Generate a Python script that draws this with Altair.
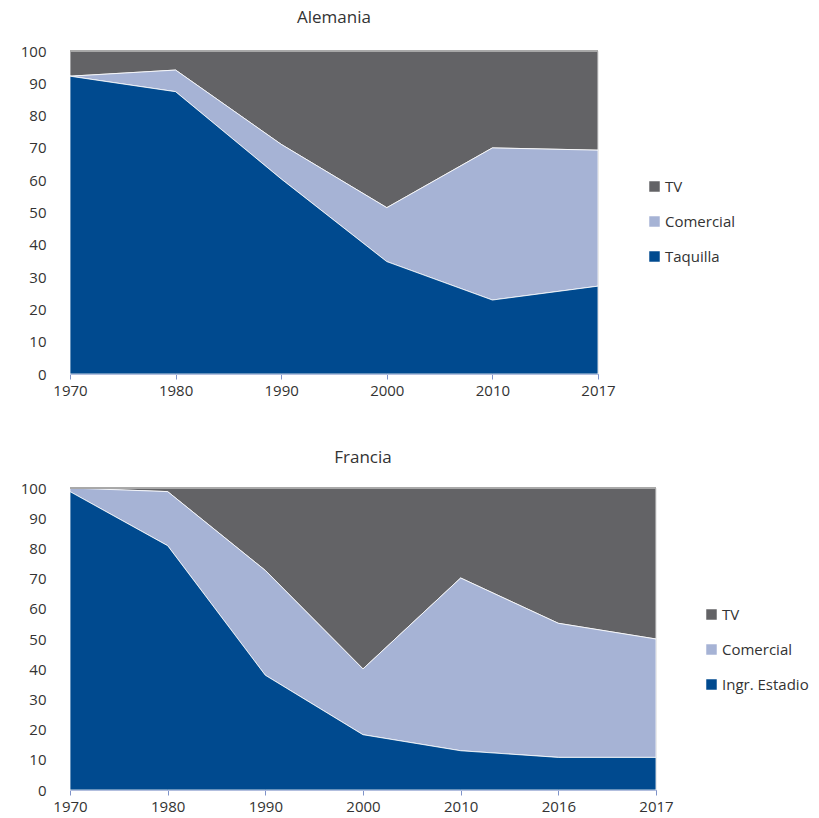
import altair as alt
import pandas as pd

# ---- data (percent shares) ----
de_years = ["1970", "1980", "1990", "2000", "2010", "2017"]
de_taquilla = [92.2, 87.4, 60.4, 34.8, 22.9, 27.2]
de_comercial = [0.0, 6.7, 10.7, 16.7, 47.1, 42.1]
de_tv = [7.8, 5.9, 28.9, 48.5, 30.0, 30.7]

fr_years = ["1970", "1980", "1990", "2000", "2010", "2016", "2017"]
fr_estadio = [98.8, 80.9, 38.0, 18.3, 13.0, 10.8, 10.8]
fr_comercial = [1.2, 17.9, 34.7, 21.8, 57.2, 44.4, 39.2]
fr_tv = [0.0, 1.2, 27.3, 59.9, 29.8, 44.8, 50.0]

de_series = ["TV", "Comercial", "Taquilla"]
fr_series = ["TV", "Comercial", "Ingr. Estadio"]
colors = ["#636366", "#A6B3D5", "#004A8F"]
y_ticks = list(range(0, 101, 10))

FONT = "Open Sans"
TXT = "#333333"


def long_df(years, names, cols):
    rows = []
    for name, col, order in zip(names, cols, [3, 2, 1]):
        for y, v in zip(years, col):
            rows.append({"year": y, "serie": name, "value": v, "ord": order})
    return pd.DataFrame(rows)


def y_axis():
    return alt.Axis(
        title=None,
        values=y_ticks,
        tickCount=11,
        domain=False,
        ticks=False,
        grid=False,
        labelOverlap=False,
        labelPadding=24,
        labelFont=FONT,
        labelFontSize=15,
        labelColor=TXT,
    )


def panel(title, years, names, cols, w, h, lx, ly, title_offset):
    df = long_df(years, names, cols)
    base = alt.Chart(df)
    yscale = alt.Scale(domain=[0, 100], nice=False, zero=True)
    area = base.mark_area(stroke="white", strokeWidth=0.8, opacity=1).encode(
        x=alt.X(
            "year:O",
            sort=years,
            scale=alt.Scale(type="point", padding=0),
            axis=alt.Axis(
                title=None,
                labelAngle=0,
                domainColor="#7F93C9",
                tickColor="#7F93C9",
                tickSize=5,
                labelPadding=4,
                labelFont=FONT,
                labelFontSize=15,
                labelColor=TXT,
            ),
        ),
        y=alt.Y("value:Q", stack="zero", scale=yscale, axis=y_axis()),
        color=alt.Color(
            "serie:N",
            scale=alt.Scale(domain=names, range=colors),
            legend=alt.Legend(
                title=None,
                orient="none",
                legendX=lx,
                legendY=ly,
                symbolType="square",
                symbolSize=110,
                symbolStrokeWidth=0,
                labelFont=FONT,
                labelFontSize=15,
                labelColor=TXT,
                labelOffset=3,
                rowPadding=19,
            ),
        ),
        order=alt.Order("ord:Q", sort="ascending"),
    )
    top = base.mark_rule(color="#A8A8A8", strokeWidth=1).encode(
        y=alt.YDatum(100, scale=yscale, axis=y_axis())
    )
    return alt.layer(area, top).properties(
        width=w,
        height=h,
        title=alt.TitleParams(
            title, font=FONT, fontSize=17, fontWeight="normal", color=TXT,
            offset=title_offset
        ),
    )


top_chart = panel("Alemania", de_years, de_series, [de_taquilla, de_comercial, de_tv][::-1], 528, 323, 577, 128, 17)
bot_chart = panel("Francia", fr_years, fr_series, [fr_estadio, fr_comercial, fr_tv][::-1], 586, 302, 634, 119, 14)

chart = (
    alt.vconcat(top_chart, bot_chart, spacing=49)
    .resolve_scale(x="independent", y="independent", color="independent")
    .configure_view(stroke=None)
    .configure(padding={"left": 19, "top": 8, "right": 5, "bottom": 5})
)

chart.save("out.html", embed_options={"renderer": "svg", "actions": False})
